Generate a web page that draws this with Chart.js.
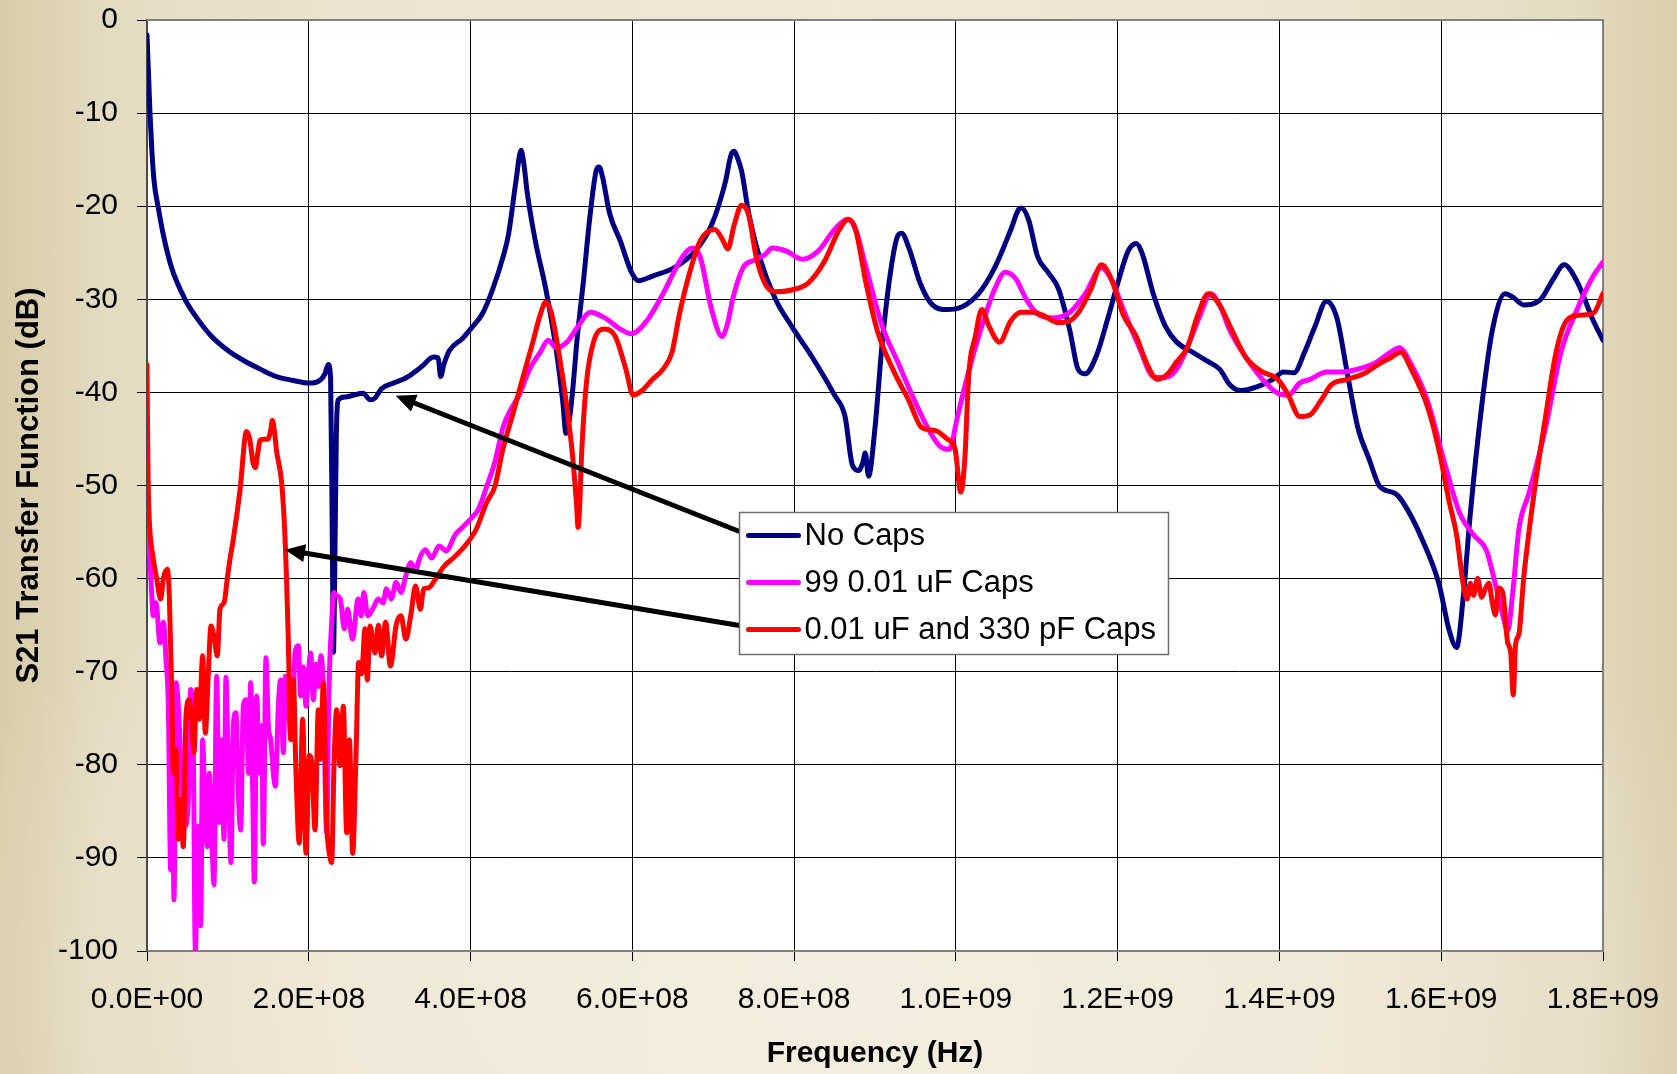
<!DOCTYPE html>
<html>
<head>
<meta charset="utf-8">
<title>S21 Transfer Function</title>
<script src="https://cdn.jsdelivr.net/npm/chart.js@4.4.1/dist/chart.umd.min.js"></script>
<style>
  html, body { margin: 0; padding: 0; overflow: hidden; }
  body {
    width: 1677px; height: 1074px;
    background:
      radial-gradient(ellipse 60% 45% at 50% 92%, rgba(243,238,224,0.85) 0%, rgba(243,238,224,0) 100%),
      linear-gradient(to right, #d7cca9 0%, #e3dbc0 6%, #ebe4ce 20%, #eee8d5 50%, #ebe4ce 80%, #e3dbc0 94%, #d8ceac 100%);
  }
  #wrap { position: relative; width: 1677px; height: 1074px; }
</style>
</head>
<body>
<div id="wrap"><canvas id="chart"></canvas></div>
<script>
// Frequencies in MHz, magnitudes in dB.
const noCapsMHz = [
  0, 1.5, 3.7, 6, 9, 13.6, 20, 30, 47, 60,
  80, 100, 120, 140, 160, 180, 200, 212, 220, 224,
  227, 229, 230.5, 232, 234, 236.5, 245, 255, 267, 276,
  282, 290, 305, 321, 340, 354, 360, 363, 367, 374,
  390, 400, 415, 427, 440, 447, 456, 462.5, 466, 470,
  480, 493, 506, 514, 518, 522, 526, 532, 539, 548,
  556, 559, 563, 572, 585, 599, 608, 625, 652, 678,
  698, 715, 722, 726, 730, 735, 744, 757, 777, 797,
  823, 850, 863, 872, 880, 885, 888, 892, 900, 909,
  920, 928, 933, 942, 956, 971, 989, 1008, 1028, 1048,
  1068, 1078, 1081, 1090, 1101, 1114, 1127, 1141, 1151, 1160,
  1174, 1187, 1200, 1213, 1223, 1230, 1244, 1259, 1273, 1293,
  1312, 1326, 1339, 1352, 1372, 1392, 1405, 1418, 1431, 1444,
  1458, 1471, 1484, 1497, 1511, 1524, 1544, 1557, 1577, 1597,
  1610, 1619, 1627, 1636, 1650, 1663, 1679, 1689, 1702, 1722,
  1738, 1752, 1768, 1788, 1800
];
const noCapsDb = [
  -1.6, -5, -10, -14, -17.5, -20, -23, -26.5, -30, -31.8,
  -34, -35.5, -36.6, -37.5, -38.3, -38.7, -39, -38.8, -38, -37,
  -38.5, -55, -67.9, -60, -45, -40.8, -40.5, -40.3, -40.1, -40.8,
  -40.6, -39.6, -39, -38.4, -37.2, -36.2, -36.3, -38.3, -37, -35.5,
  -34.2, -33.2, -31.5, -29, -25.5, -23, -17.4, -14, -15.5, -18.5,
  -23.7, -28.9, -35.5, -41, -44.4, -43, -40, -34, -28.5, -20.8,
  -16, -15.8, -16.8, -20.8, -23.7, -27.1, -28, -27.5, -26.6, -24.8,
  -22, -17.4, -14.5, -14.1, -14.8, -16.2, -20.8, -25.4, -30, -32.9,
  -36.3, -40.3, -42.6, -47.8, -48.4, -47.5, -46.5, -49, -43.8, -34.6,
  -26.6, -23.2, -22.9, -24.5, -28.3, -30.6, -31.1, -30.8, -29.4, -26.6,
  -22.5, -20.3, -20.2, -21.5, -25.4, -27.1, -28.9, -33.4, -37.5, -38,
  -36, -32.3, -28.3, -24.8, -24, -25, -29.4, -32.9, -34.6, -35.7,
  -36.7, -37.5, -39.2, -39.8, -39.4, -38.6, -37.8, -37.9, -35.7, -32.9,
  -30.2, -32, -38, -43.8, -47.2, -50.1, -50.9, -52.4, -55.9, -60.5,
  -65.6, -67.4, -62.2, -53, -41.5, -33.4, -29.4, -29.8, -30.6, -30.1,
  -27.9, -26.3, -28.1, -32.3, -34.4
];

const caps99MHz = [
  0, 1, 2.5, 3.7, 6, 7.8, 11.1, 16.1, 20.2, 23.5,
  26.4, 29.3, 31.3, 33.4, 35.9, 38.7, 42.9, 47, 51.1, 54,
  57.3, 59.8, 63.5, 66.4, 68.8, 71.7, 74.6, 77.1, 80, 82.8,
  86.1, 89.4, 92.3, 95.2, 97.6, 100.6, 103.9, 106.7, 110, 112.9,
  115.8, 119.1, 122.4, 125.7, 128.2, 130.6, 132.7, 135.6, 138.9, 141.8,
  143.8, 147.1, 150, 152.9, 156.2, 158.7, 162.4, 165.2, 168.6, 171,
  174.7, 178.9, 183, 187.1, 190, 193.3, 196.6, 199.5, 202.3, 205.6,
  208.9, 211.8, 215.1, 218, 222.1, 225, 228.3, 231.2, 234, 239,
  244, 248, 254, 261, 265, 268, 273, 280, 286, 292,
  296, 302, 308, 314, 320, 326, 332, 338, 344, 352,
  361, 370, 381, 390, 400, 410, 420, 430, 440, 450,
  460, 473, 486, 496, 506, 519, 533, 548, 566, 585,
  599, 618, 638, 658, 668, 675, 684, 698, 711, 718,
  724, 737, 751, 764, 773, 790, 810, 830, 850, 866,
  876, 889, 909, 929, 949, 969, 982, 992, 1002, 1015,
  1032, 1048, 1061, 1074, 1087, 1103, 1121, 1141, 1160, 1180,
  1193, 1207, 1227, 1244, 1259, 1273, 1286, 1302, 1315, 1326,
  1339, 1359, 1379, 1398, 1411, 1425, 1438, 1458, 1478, 1497,
  1517, 1537, 1548, 1563, 1583, 1603, 1623, 1640, 1656, 1665,
  1676, 1682, 1689, 1696, 1709, 1729, 1748, 1768, 1788, 1800
];
const caps99Db = [
  -45, -52, -56, -58, -62, -64, -62.6, -66.9, -64.7, -68.7,
  -73.7, -91.3, -78, -94.5, -71.2, -73.7, -81.6, -86.6, -83.8, -71.9,
  -78.7, -100, -86.6, -97.3, -77.3, -85.2, -88.8, -80.9, -87.3, -92.9,
  -70.5, -86.2, -77.3, -88, -70.6, -80.9, -90.5, -75.8, -74.4, -83,
  -87, -73.7, -73, -80.9, -71.2, -82.3, -92.6, -72.6, -80.9, -75.8,
  -88.5, -68.5, -75.8, -77.3, -80.9, -82.3, -73.7, -70.9, -78.7, -70.5,
  -73.7, -77.3, -68, -67.2, -72.6, -69.5, -73.7, -70.2, -68, -73,
  -69.2, -71.6, -68.3, -71.9, -87.3, -71.9, -64.7, -61.5, -61.8, -62.2,
  -65.4, -63.3, -66.5, -62.2, -64, -61.5, -64, -63.1, -62.2, -62.6,
  -61.1, -62.2, -60.4, -61.5, -59.7, -58.3, -59, -57.6, -56.9, -57.8,
  -56.5, -57, -55.3, -54.5, -53.6, -52.5, -50.1, -47.5, -43.8, -41.8,
  -40.3, -37.5, -35.7, -34.4, -35.2, -34.6, -32.9, -31.4, -32, -33.2,
  -33.7, -32.3, -29.4, -26, -24.8, -24.5, -25.5, -31.1, -34, -32.5,
  -30, -26.6, -25.8, -25.2, -24.5, -24.8, -25.7, -24.8, -22.5, -21.4,
  -22.5, -26.6, -32.9, -36.9, -40.9, -44.4, -45.9, -46.1, -42.6, -38,
  -32.9, -28.9, -27.1, -27.8, -30, -31.7, -32, -31.4, -29.4, -26.6,
  -28, -31.1, -35.2, -38.3, -38.4, -37.5, -35.2, -31.7, -29.4, -30.6,
  -33.4, -36.3, -38.6, -40.1, -40.3, -39, -38.6, -37.8, -37.8, -37.5,
  -36.9, -35.7, -35.2, -37, -40.9, -47.2, -53, -55.3, -57, -59.9,
  -63.9, -65.6, -61, -54.7, -50.7, -43.8, -35.7, -31.1, -27.5, -26
];

const mixedMHz = [
  0, 0.8, 1.5, 3, 7.8, 12, 16.9, 20.2, 25.1, 27.6,
  30.5, 32.6, 35.9, 38.7, 41.6, 44.9, 48.2, 52.3, 55.2, 58.1,
  61.4, 64.7, 68.8, 72.1, 75.8, 79.1, 82.8, 86.9, 90.2, 95.2,
  99.3, 102.6, 106.7, 115, 123, 127, 131, 134, 137, 140,
  150, 153, 155, 158, 160, 166.5, 170.6, 172.5, 174.7, 177.6,
  180.9, 184.2, 188.3, 192.4, 196.6, 200.7, 204, 207.7, 211.8, 214.7,
  218, 222.1, 225.4, 228.3, 231.2, 234.5, 238.6, 242.7, 246.9, 250.2,
  254.3, 258.4, 261.7, 265.4, 269.5, 272.4, 275.7, 281.9, 286, 290,
  295, 301, 308, 314, 320, 326, 332, 338, 342, 348,
  357, 367, 381, 394, 407, 420, 430, 440, 453, 466,
  477, 486, 493, 500, 509, 519, 526, 531, 533, 535,
  537, 543, 552, 566, 579, 592, 601, 612, 625, 638,
  649, 658, 671, 684, 702, 711, 718, 726, 735, 744,
  753, 764, 777, 797, 817, 837, 856, 867, 876, 889,
  903, 922, 942, 958, 975, 989, 999, 1006, 1011, 1016,
  1024, 1032, 1041, 1054, 1068, 1081, 1094, 1107, 1127, 1141,
  1154, 1167, 1180, 1193, 1207, 1223, 1236, 1249, 1262, 1273,
  1286, 1299, 1312, 1326, 1339, 1359, 1379, 1398, 1411, 1425,
  1438, 1451, 1464, 1484, 1504, 1524, 1537, 1550, 1563, 1583,
  1597, 1610, 1619, 1627, 1632, 1636, 1640, 1645, 1650, 1655,
  1659, 1663, 1667, 1671, 1676, 1682, 1686, 1689, 1692, 1696,
  1702, 1715, 1729, 1742, 1755, 1772, 1788, 1800
];
const mixedDb = [
  -37, -45, -50, -54, -57.9, -60, -62.2, -60, -59, -61.9,
  -71.9, -80.9, -78.4, -88, -83.7, -88.8, -74.8, -73, -75.8, -78.7,
  -71.9, -75.1, -68.3, -76.6, -70.2, -65.1, -66.2, -68.3, -63.3, -62.6,
  -60, -57.9, -55.8, -50.5, -44.2, -45, -47.5, -48.1, -46.5, -45.1,
  -45, -44, -43, -44.5, -46.2, -49.7, -55.5, -60, -66.5, -77.3,
  -70.9, -80.9, -88.4, -75.1, -89.5, -79, -80.1, -87, -74.1, -79.4,
  -71.2, -86.2, -89.5, -90.5, -80, -74.1, -80.1, -73.7, -87.3, -77.3,
  -89.5, -79, -69, -70.2, -65.4, -70.9, -65.1, -68, -65, -68.3,
  -64.7, -69.4, -65, -64, -66.5, -64, -60.8, -63.3, -61.1, -61,
  -60, -58.7, -57.6, -56.4, -54.7, -51.8, -50.1, -46.1, -42.1, -38,
  -34.6, -31.7, -30.3, -31.5, -35.7, -41.5, -46.7, -52, -54.5, -52,
  -47.2, -39.2, -34.6, -33.2, -34, -37.5, -40.3, -39.8, -38.6, -37.5,
  -35.7, -31.7, -27.1, -23.7, -22.5, -23.5, -24.6, -22, -19.9, -21,
  -25.4, -28.3, -29.2, -29, -28.3, -26, -22.5, -21.4, -22.5, -28.3,
  -33.4, -37.5, -40.9, -43.8, -44.1, -45, -46.1, -50.7, -47.2, -38,
  -34, -31.1, -32.9, -34.6, -32.3, -31.4, -31.4, -31.7, -32.5, -32.3,
  -31.1, -28.9, -26.3, -28, -31.7, -34, -36.9, -38.6, -38, -36.7,
  -35.2, -31.7, -29.4, -30.6, -32.9, -36.3, -37.8, -38.6, -40.3, -42.6,
  -42.4, -40.9, -39.2, -38.6, -38, -36.9, -36.3, -35.7, -37.5, -41.5,
  -46.1, -51.8, -55.3, -60.5, -62.2, -60.5, -61.8, -60, -62, -61,
  -60.5, -62.5, -63.9, -61, -61.5, -66.8, -68, -72.5, -67, -66,
  -59.9, -50.7, -42.6, -35.7, -32.3, -31.7, -31.5, -29.4
];

const seriesNames = ['No Caps', '99 0.01 uF Caps', '0.01 uF and 330 pF Caps'];
const seriesColors = ['#000080', '#ff00ff', '#ff0000'];

// Axis range (MHz / dB)
const freqMin = 0, freqMax = 1800, freqStep = 200;
const dbMin = -100, dbMax = 0, dbStep = 10;

// Legend box anchor (top-left corner, data units) and arrow targets (data units)
const legendAnchor = { x: 732, y: -52.85 };
const arrowTargets = [
  { row: 0, x: 307.5, y: -40.35 },
  { row: 2, x: 170.6, y: -56.9 }
];

function toPoints(xs, ys) { return xs.map((x, i) => ({ x: x, y: ys[i] })); }

// Hz written as 1.2E+09
function sciLabel(hz) {
  if (hz === 0) return '0.0E+00';
  const e = Math.floor(Math.log10(hz) + 1e-9);
  const m = hz / Math.pow(10, e);
  return m.toFixed(1) + 'E+' + String(e).padStart(2, '0');
}

const FONT = '"Liberation Sans", Arial, Helvetica, sans-serif';
Chart.defaults.font.family = FONT;
Chart.defaults.color = '#000';

function drawArrow(ctx, x0, y0, x1, y1) {
  const ang = Math.atan2(y1 - y0, x1 - x0);
  const headLen = 20, headHalf = 9;
  const bx = x1 - headLen * Math.cos(ang), by = y1 - headLen * Math.sin(ang);
  ctx.beginPath();
  ctx.moveTo(x0, y0);
  ctx.lineTo(bx + Math.cos(ang) * 2, by + Math.sin(ang) * 2);
  ctx.lineWidth = 5;
  ctx.lineCap = 'butt';
  ctx.stroke();
  ctx.beginPath();
  ctx.moveTo(x1, y1);
  ctx.lineTo(bx + headHalf * Math.sin(ang), by - headHalf * Math.cos(ang));
  ctx.lineTo(bx - headHalf * Math.sin(ang), by + headHalf * Math.cos(ang));
  ctx.closePath();
  ctx.fill();
}

const frameAndNotes = {
  id: 'frameAndNotes',
  beforeDraw(chart) {
    const { ctx, chartArea: a } = chart;
    ctx.save();
    ctx.fillStyle = '#ffffff';
    ctx.fillRect(a.left, a.top, a.right - a.left, a.bottom - a.top);
    ctx.restore();
  },
  beforeDatasetsDraw(chart) {
    const { ctx, chartArea: a } = chart;
    ctx.save();
    ctx.strokeStyle = '#808080';
    ctx.lineWidth = 2;
    ctx.beginPath();
    ctx.moveTo(a.left, a.top); ctx.lineTo(a.right, a.top); ctx.lineTo(a.right, a.bottom);
    ctx.stroke();
    ctx.restore();
  },
  afterDatasetsDraw(chart) {
    const { ctx } = chart;
    const sx = chart.scales.x, sy = chart.scales.y;
    const left = Math.round(sx.getPixelForValue(legendAnchor.x)) + 0.5;
    const top = Math.round(sy.getPixelForValue(legendAnchor.y)) + 0.5;
    const rowGap = 47, firstRow = 23, lineX0 = 9, lineX1 = 59, textX = 65;
    ctx.save();
    ctx.font = '31px ' + FONT;
    let maxW = 0;
    chart.data.datasets.forEach(d => { maxW = Math.max(maxW, ctx.measureText(d.label).width); });
    const width = Math.round(textX + maxW + 12);
    const height = firstRow * 2 + rowGap * 2 + 2;

    // arrows from the legend to the curves
    ctx.strokeStyle = '#000';
    ctx.fillStyle = '#000';
    arrowTargets.forEach(t => {
      const ty = top + firstRow + t.row * rowGap - 4;
      drawArrow(ctx, left, ty, sx.getPixelForValue(t.x), sy.getPixelForValue(t.y));
    });

    // legend box
    ctx.fillStyle = '#fff';
    ctx.fillRect(left, top, width, height);
    ctx.strokeStyle = '#6e6e6e';
    ctx.lineWidth = 1.5;
    ctx.strokeRect(left, top, width, height);
    ctx.textBaseline = 'middle';
    ctx.textAlign = 'left';
    chart.data.datasets.forEach((d, i) => {
      const cy = top + firstRow + i * rowGap;
      ctx.strokeStyle = d.borderColor;
      ctx.lineWidth = 5;
      ctx.lineCap = 'round';
      ctx.beginPath();
      ctx.moveTo(left + lineX0, cy); ctx.lineTo(left + lineX1, cy);
      ctx.stroke();
      ctx.fillStyle = '#000';
      ctx.fillText(d.label, left + textX, cy + 1);
    });
    ctx.restore();
  }
};

const datasets = [
  { xs: noCapsMHz, ys: noCapsDb },
  { xs: caps99MHz, ys: caps99Db },
  { xs: mixedMHz, ys: mixedDb }
].map((s, i) => ({
  label: seriesNames[i],
  data: toPoints(s.xs, s.ys),
  borderColor: seriesColors[i],
  backgroundColor: seriesColors[i],
  borderWidth: 5,
  pointRadius: 0,
  cubicInterpolationMode: 'monotone',
  borderJoinStyle: 'round',
  borderCapStyle: 'round',
  fill: false,
  order: 3 - i
}));

new Chart(document.getElementById('chart'), {
  type: 'line',
  data: { datasets: datasets },
  options: {
    responsive: true,
    maintainAspectRatio: false,
    animation: false,
    layout: { padding: { left: 0, top: 20, right: 74, bottom: 0 } },
    plugins: { legend: { display: false }, tooltip: { enabled: false } },
    scales: {
      x: {
        type: 'linear',
        min: freqMin, max: freqMax,
        ticks: {
          stepSize: freqStep, autoSkip: false, maxRotation: 0, padding: 21,
          color: '#000', font: { size: 30 },
          callback: v => sciLabel(v * 1e6)
        },
        grid: { color: '#000', lineWidth: 1, tickLength: 10, tickColor: '#000' },
        border: { color: '#808080', width: 2 },
        title: {
          display: true, text: 'Frequency (Hz)', color: '#000',
          font: { size: 30, weight: 'bold' }, padding: { top: 0, bottom: 2 }
        },
        afterFit(scale) { scale.height = 123; scale.paddingLeft = 0; scale.paddingRight = 0; }
      },
      y: {
        type: 'linear',
        min: dbMin, max: dbMax,
        ticks: { stepSize: dbStep, padding: 19, color: '#000', font: { size: 30 } },
        grid: { color: '#000', lineWidth: 1, tickLength: 10, tickColor: '#000' },
        border: { color: '#4a4a4a', width: 2 },
        title: {
          display: true, text: 'S21 Transfer Function (dB)', color: '#000',
          font: { size: 31, weight: 'bold' }, padding: { top: 11, bottom: 0 }
        },
        afterFit(scale) { scale.width = 147; scale.paddingTop = 0; scale.paddingBottom = 0; }
      }
    }
  },
  plugins: [frameAndNotes]
});
</script>
</body>
</html>
